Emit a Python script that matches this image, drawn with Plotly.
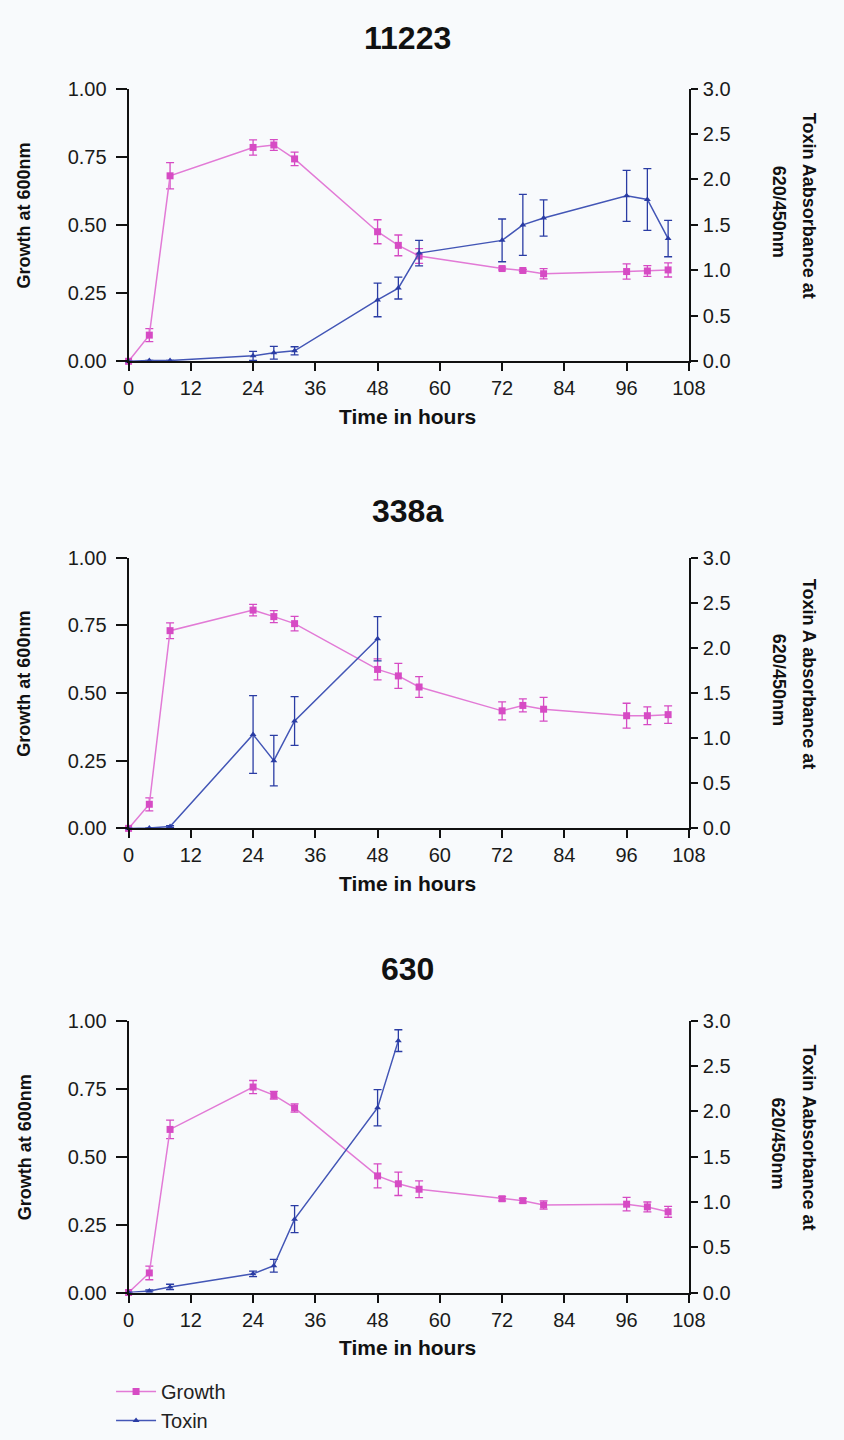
import plotly.graph_objects as go

# ---------------- data ----------------
hours = [0, 4, 8, 24, 28, 32, 48, 52, 56, 72, 76, 80, 96, 100, 104]

panel_titles = ["11223", "338a", "630"]
toxin_titles = ["Toxin Aabsorbance at", "Toxin A absorbance at", "Toxin Aabsorbance at"]

growth_11223 = [0, 0.096, 0.68, 0.784, 0.793, 0.742, 0.475, 0.425, 0.386, 0.340, 0.333, 0.321, 0.329, 0.331, 0.335]
growth_11223_err = [0, 0.024, 0.048, 0.028, 0.020, 0.025, 0.044, 0.038, 0.027, 0.005, 0.004, 0.019, 0.028, 0.020, 0.026]
toxin_11223_t = [0, 4, 8, 24, 28, 32, 48, 52, 56, 72, 76, 80, 96, 100, 104]
toxin_11223 = [0, 0.01, 0.01, 0.06, 0.094, 0.115, 0.675, 0.805, 1.19, 1.33, 1.50, 1.576, 1.82, 1.78, 1.35]
toxin_11223_err = [0, 0, 0, 0.05, 0.07, 0.045, 0.185, 0.12, 0.14, 0.235, 0.335, 0.20, 0.28, 0.34, 0.20]

growth_338a = [0, 0.089, 0.73, 0.806, 0.782, 0.756, 0.587, 0.563, 0.522, 0.434, 0.454, 0.44, 0.416, 0.416, 0.42]
growth_338a_err = [0, 0.024, 0.029, 0.021, 0.022, 0.027, 0.039, 0.046, 0.038, 0.033, 0.024, 0.044, 0.046, 0.033, 0.032]
toxin_338a_t = [0, 4, 8, 24, 28, 32, 48]
toxin_338a = [0, 0.005, 0.02, 1.04, 0.75, 1.19, 2.10]
toxin_338a_err = [0, 0, 0.01, 0.43, 0.28, 0.27, 0.245]

growth_630 = [0, 0.072, 0.60, 0.756, 0.726, 0.679, 0.429, 0.40, 0.38, 0.345, 0.338, 0.322, 0.325, 0.315, 0.297]
growth_630_err = [0, 0.025, 0.034, 0.024, 0.014, 0.015, 0.044, 0.043, 0.031, 0.008, 0.008, 0.015, 0.025, 0.018, 0.020]
toxin_630_t = [0, 4, 8, 24, 28, 32, 48, 52]
toxin_630 = [0, 0.018, 0.061, 0.206, 0.296, 0.81, 2.04, 2.78]
toxin_630_err = [0, 0.01, 0.03, 0.03, 0.07, 0.15, 0.20, 0.12]

x_ticks = [0, 12, 24, 36, 48, 60, 72, 84, 96, 108]
growth_ticks = [0, 0.25, 0.5, 0.75, 1.0]
toxin_ticks = [0, 0.5, 1.0, 1.5, 2.0, 2.5, 3.0]

# ---------------- layout geometry ----------------
W, H = 844, 1440
X0, X1 = 126, 702
panels_px = [(79, 357), (557, 833), (1029, 1306)]  # (top, bottom) pixel rows


def py(p):
    return 1 - p / H


def px(p):
    return p / W


PINK_LINE = "#E27AD6"
PINK_MARK = "#D64BC4"
BLUE_LINE = "#4356B6"
BLUE_MARK = "#2A3CA4"
BG = "#F8FAFC"
FONT = "Liberation Sans, Arial, sans-serif"

fig = go.Figure()

data = [
    (growth_11223, growth_11223_err, toxin_11223_t, toxin_11223, toxin_11223_err),
    (growth_338a, growth_338a_err, toxin_338a_t, toxin_338a, toxin_338a_err),
    (growth_630, growth_630_err, toxin_630_t, toxin_630, toxin_630_err),
]

for i, (g, ge, tt, tx, txe) in enumerate(data):
    xa = "x" if i == 0 else f"x{i+1}"
    ya = "y" if i == 0 else f"y{2*i+1}"
    ya2 = f"y{2*i+2}"
    last = i == 2
    fig.add_trace(go.Scatter(
        x=hours, y=g, xaxis=xa, yaxis=ya, mode="lines+markers",
        name="Growth", showlegend=last, legendrank=1,
        line=dict(color=PINK_LINE, width=1.5),
        marker=dict(symbol="square", size=7, color=PINK_MARK),
        error_y=dict(type="data", array=ge, visible=True, color=PINK_MARK, thickness=1.3, width=4),
        cliponaxis=False,
    ))
    fig.add_trace(go.Scatter(
        x=tt, y=tx, xaxis=xa, yaxis=ya2, mode="lines+markers",
        name="Toxin", showlegend=last, legendrank=2,
        line=dict(color=BLUE_LINE, width=1.5),
        marker=dict(symbol="triangle-up", size=6, color=BLUE_MARK),
        error_y=dict(type="data", array=txe, visible=True, color=BLUE_MARK, thickness=1.3, width=4),
        cliponaxis=False,
    ))

axis_common = dict(showgrid=False, zeroline=False, showline=True, linecolor="#111111",
                   linewidth=2, ticks="outside", tickcolor="#111111", tickwidth=1.5,
                   tickfont=dict(family=FONT, size=20, color="#1a1a1a"))

layout = dict(
    width=W, height=H, margin=dict(l=0, r=0, t=0, b=0),
    paper_bgcolor=BG, plot_bgcolor=BG,
    font=dict(family=FONT, color="#111111"),
    legend=dict(x=px(108), y=py(1387), xanchor="left", yanchor="top",
                font=dict(family=FONT, size=20, color="#222222"),
                bgcolor="rgba(0,0,0,0)", tracegroupgap=0, itemwidth=40),
)

annotations = []
for i, (top, bot) in enumerate(panels_px):
    xk = "xaxis" if i == 0 else f"xaxis{i+1}"
    yk = "yaxis" if i == 0 else f"yaxis{2*i+1}"
    yk2 = f"yaxis{2*i+2}"
    yname = "y" if i == 0 else f"y{2*i+1}"
    xname = "x" if i == 0 else f"x{i+1}"
    layout[xk] = dict(axis_common, domain=[px(X0), px(X1)], anchor=yname, range=[0, 108],
                      tickvals=x_ticks, ticklen=8, ticklabelstandoff=0)
    layout[yk] = dict(axis_common, domain=[py(bot), py(top)], anchor=xname, range=[0, 1],
                      tickvals=growth_ticks, tickformat=".2f", ticklen=11, ticklabelstandoff=5)
    layout[yk2] = dict(axis_common, domain=[py(bot), py(top)], anchor=xname, overlaying=yname,
                       side="right", range=[0, 3], tickvals=toxin_ticks, tickformat=".1f",
                       ticklen=7, ticklabelstandoff=1)
    mid = (top + bot) / 2
    title_y = [28, 510, 976][i]
    annotations.append(dict(text=f"<b>{panel_titles[i]}</b>", x=px(413), y=py(title_y),
                            xref="paper", yref="paper", showarrow=False,
                            xanchor="center", yanchor="middle",
                            font=dict(family=FONT, size=32, color="#111111")))
    annotations.append(dict(text="<b>Time in hours</b>", x=px(413), y=py(bot + 56),
                            xref="paper", yref="paper", showarrow=False,
                            xanchor="center", yanchor="middle",
                            font=dict(family=FONT, size=21, color="#111111")))
    annotations.append(dict(text="<b>Growth at 600nm</b>", x=px(19), y=py(mid - 10),
                            xref="paper", yref="paper", showarrow=False, textangle=-90,
                            xanchor="center", yanchor="middle",
                            font=dict(family=FONT, size=18, color="#111111")))
    annotations.append(dict(text=f"<b>{toxin_titles[i]}</b>", x=px(825), y=py(mid - 20),
                            xref="paper", yref="paper", showarrow=False, textangle=90,
                            xanchor="center", yanchor="middle",
                            font=dict(family=FONT, size=18, color="#111111")))
    annotations.append(dict(text="<b>620/450nm</b>", x=px(794), y=py(mid - 13),
                            xref="paper", yref="paper", showarrow=False, textangle=90,
                            xanchor="center", yanchor="middle",
                            font=dict(family=FONT, size=18, color="#111111")))

layout["annotations"] = annotations
fig.update_layout(**layout)
fig.write_html("out.html")
